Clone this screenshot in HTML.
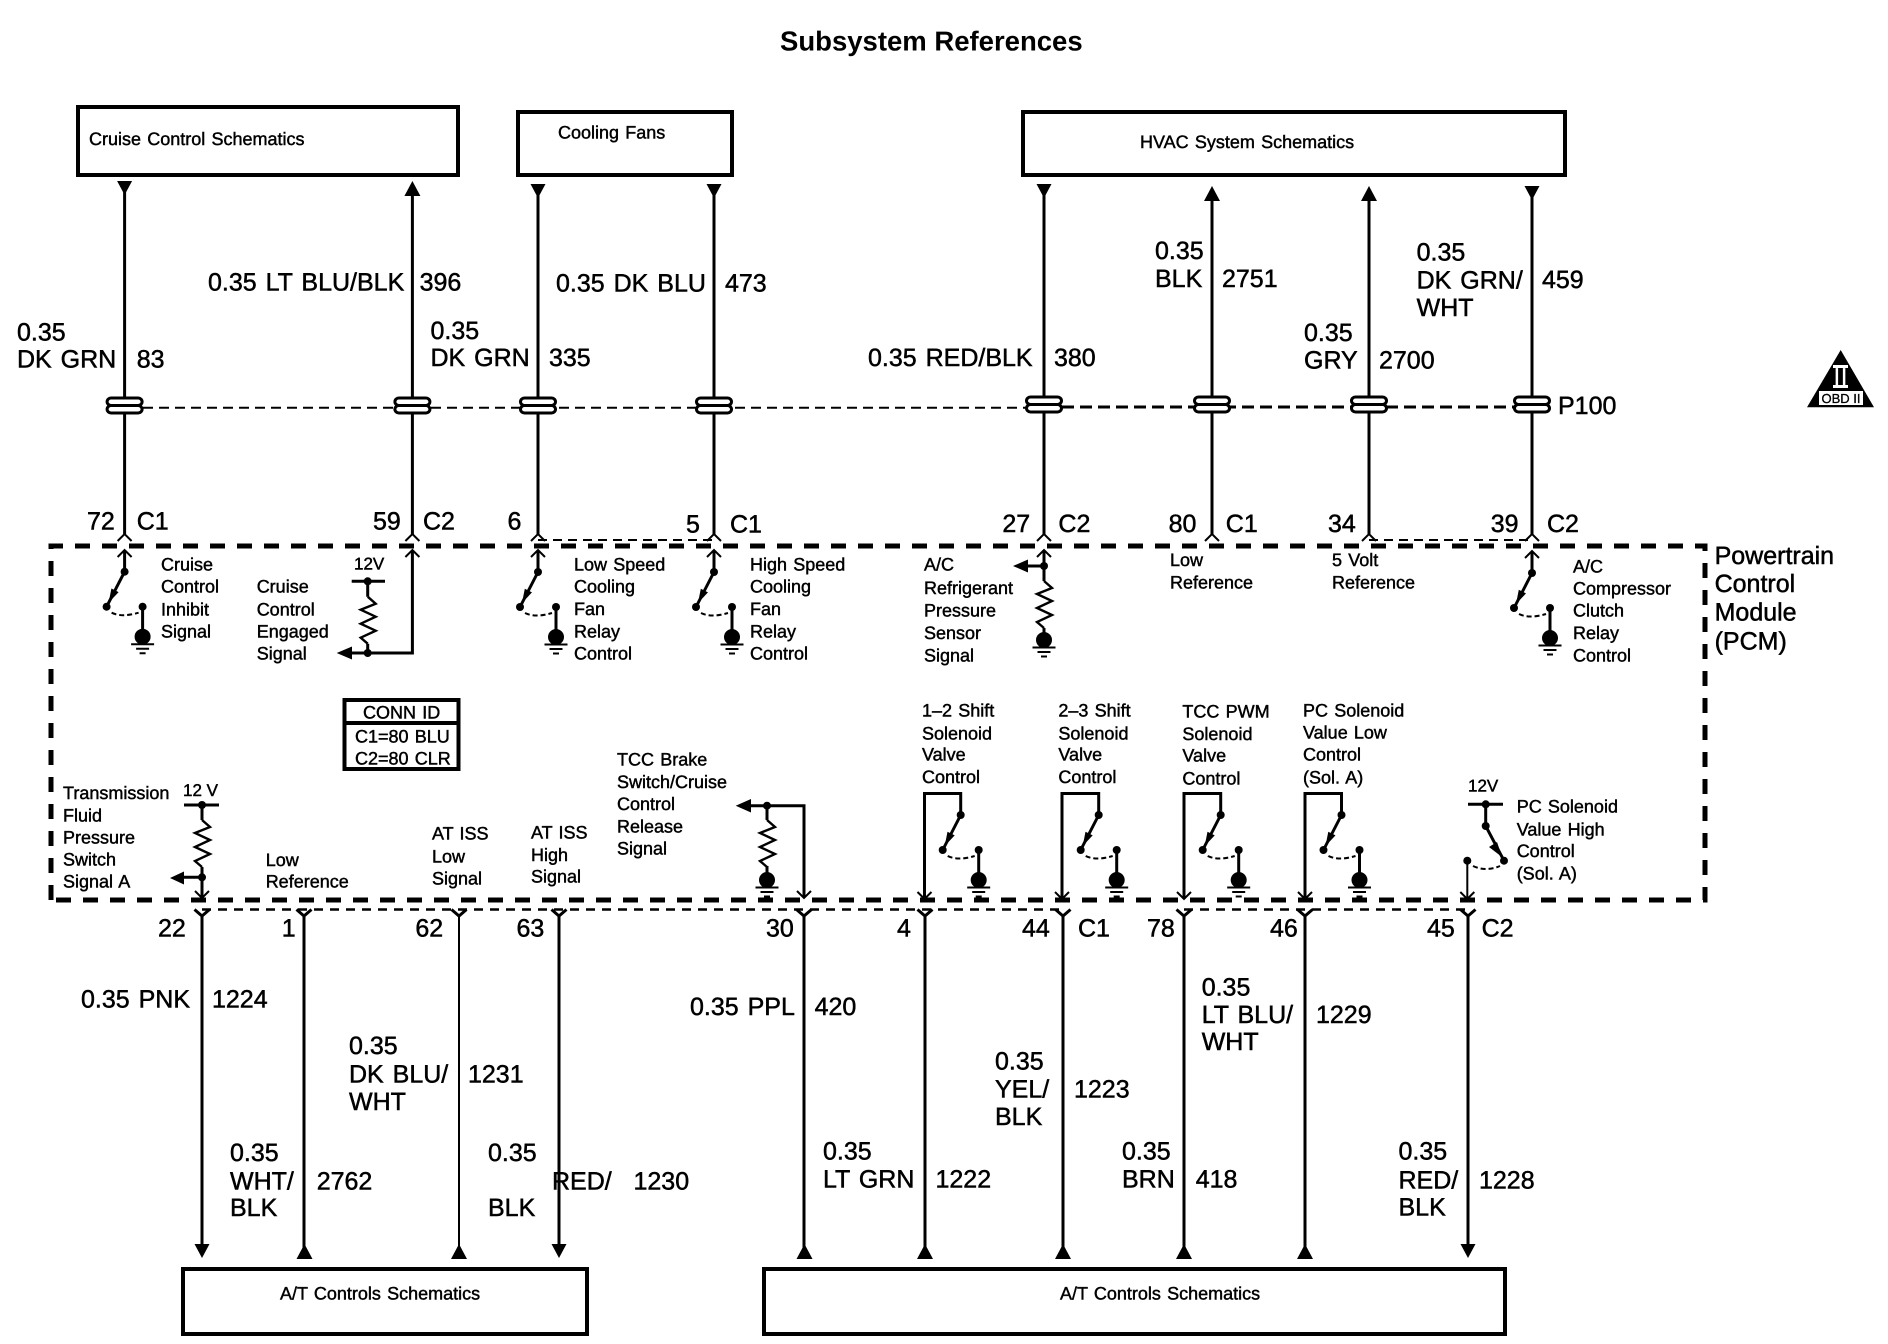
<!DOCTYPE html>
<html><head><meta charset="utf-8"><title>Subsystem References</title>
<style>
html,body{margin:0;padding:0;background:#fff}
svg{display:block}
text{font-family:"Liberation Sans",sans-serif;fill:#000;text-rendering:geometricPrecision}
.l{font-size:25px;stroke:#000;stroke-width:.5;word-spacing:2px;transform:translateY(-1px)}
.s{font-size:18px;stroke:#000;stroke-width:.45;word-spacing:1.2px;transform:translateY(-.7px)}
.v{font-size:17px;stroke:#000;stroke-width:.45;transform:translateY(-.7px)}
.t{font-size:27.5px;font-weight:bold}
.w{fill:none;stroke:#000;stroke-width:3}
.n{fill:none;stroke:#000;stroke-width:2}
.z{fill:none;stroke:#000;stroke-width:2.4}
</style></head><body>
<svg xmlns="http://www.w3.org/2000/svg" width="1888" height="1344" viewBox="0 0 1888 1344">
<defs>
<g id="gnd"><circle cx="0" cy="0" r="8"/><path d="M-11.500 7.500H11.500M-6.500 12H6.500M-3 16.500H3" class="n"/></g>
<g id="sw">
<circle cx="0" cy="0" r="4"/><path d="M0 0L-18 35" class="w"/><polygon points="-16,31 -13.200,16.800 -6,20.400"/>
<circle cx="-18" cy="35" r="4"/><circle cx="18" cy="35" r="4"/>
<path d="M-13 41Q-3 46 14 41" fill="none" stroke="#000" stroke-width="2" stroke-dasharray="5 3"/>
<path d="M18 35V65" class="w"/><use href="#gnd" x="18" y="65"/>
</g>
<path id="res" d="M0 0L8 7L-7 13L8 20L-7 27L8 34L-7 41L0 47" class="z"/>
<path id="up" d="M-7 7L0 0L7 7" class="n"/>
<path id="dn" d="M-7 -7L0 0L7 -7" class="n"/>
<path id="y" d="M-7.500 -6.500L0 0L7.500 -6.500" class="w"/>
<polygon id="ad" points="-7.500,0 7.500,0 0,14"/>
<polygon id="au" points="-8,15 8,15 0,0"/>
<g id="sp"><rect x="-17.500" y="398" width="35" height="7.500" rx="4" fill="#fff" stroke="#000" stroke-width="3"/><rect x="-17.500" y="405.500" width="35" height="7.500" rx="4" fill="#fff" stroke="#000" stroke-width="3"/></g>
</defs>

<text class="t" x="780" y="50.600">Subsystem References</text>

<!-- boxes -->
<g fill="none" stroke="#000" stroke-width="4">
<rect x="78" y="107" width="380" height="68"/>
<rect x="518" y="112" width="214" height="63"/>
<rect x="1023" y="112" width="542" height="63"/>
<rect x="183" y="1269" width="404" height="65"/>
<rect x="764" y="1269" width="741" height="65"/>
<rect x="344.500" y="700" width="114" height="69"/>
<path d="M344 723H459"/>
</g>
<text class="s" x="89" y="145.700">Cruise Control Schematics</text>
<text class="s" x="558" y="139">Cooling Fans</text>
<text class="s" x="1140" y="148.700">HVAC System Schematics</text>
<text class="s" x="280" y="1300">A/T Controls Schematics</text>
<text class="s" x="1060" y="1300">A/T Controls Schematics</text>

<!-- PCM boundary -->
<path d="M51 900V546H1705V900H51" fill="none" stroke="#000" stroke-width="5" stroke-dasharray="15 12"/>

<!-- P100 dashed -->
<path d="M143 407.700H1044" fill="none" stroke="#000" stroke-width="2" stroke-dasharray="10 6"/>
<path d="M1044 407H1532" fill="none" stroke="#000" stroke-width="3" stroke-dasharray="12 6"/>
<!-- connector dashed -->
<path d="M538 540H714M1369 540H1532" fill="none" stroke="#000" stroke-width="2" stroke-dasharray="9 6"/>
<path d="M202 909.500H1063M1184 909.500H1468" fill="none" stroke="#000" stroke-width="2.500" stroke-dasharray="9 7"/>

<!-- top wires -->
<g class="w">
<path d="M124.600 190V534M412.400 192V534M538 192V534M714 192V534M1044 192V534M1212 196V534M1369 196V534M1532 194V534"/>
</g>
<g>
<use href="#ad" x="124.600" y="181"/><use href="#au" x="412.400" y="181"/>
<use href="#ad" x="538" y="184"/><use href="#ad" x="714" y="184"/>
<use href="#ad" x="1044" y="184"/><use href="#au" x="1212" y="186"/>
<use href="#au" x="1369" y="186"/><use href="#ad" x="1532" y="186"/>
</g>
<use href="#sp" x="124.600"/><use href="#sp" x="412.400"/><use href="#sp" x="538"/><use href="#sp" x="714"/>
<use href="#sp" x="1044" y="-1"/><use href="#sp" x="1212" y="-1"/><use href="#sp" x="1369" y="-1"/><use href="#sp" x="1532" y="-1"/>
<!-- outer chevrons top -->
<use href="#up" x="124.600" y="534"/><use href="#up" x="412.400" y="534"/><use href="#up" x="538" y="534"/><use href="#up" x="714" y="534"/>
<use href="#up" x="1044" y="534"/><use href="#up" x="1212" y="534"/><use href="#up" x="1369" y="534"/><use href="#up" x="1532" y="534"/>
<!-- inner chevrons top -->
<use href="#up" x="124.600" y="550"/><use href="#up" x="412.400" y="550"/><use href="#up" x="538" y="550"/><use href="#up" x="714" y="550"/>
<use href="#up" x="1044" y="550"/><use href="#up" x="1532" y="551"/>
<path class="w" d="M124.600 550V572M538 550V572M714 550V572M1532 551V573M1044 550V581"/>
<use href="#sw" x="124.600" y="571.700"/><use href="#sw" x="538" y="572"/><use href="#sw" x="714" y="572"/><use href="#sw" x="1532" y="573"/>

<!-- cruise engaged -->
<path class="w" d="M412.400 550V653H350M351.700 581.300H385M367.700 581.300V596.700M367.700 643.700V653"/>
<use href="#res" x="367.700" y="596.700"/>
<circle cx="367.700" cy="581.300" r="4"/><circle cx="367.700" cy="653" r="4"/>
<polygon points="336.700,653 352,646.500 352,659.500"/>
<!-- AC refrigerant -->
<circle cx="1044" cy="566" r="4"/><path class="w" d="M1044 566H1026"/><polygon points="1013,566 1028,559.500 1028,572.500"/>
<use href="#res" x="1044" y="581"/><path class="w" d="M1044 628V640"/><use href="#gnd" x="1044" y="640"/>

<!-- bottom wires -->
<path class="w" d="M202 916V1245M304 916V1248M559 916V1245M804 916V1248M925 916V1248M1063 916V1248M1184 916V1248M1305 916V1248M1468 916V1245"/>
<path class="n" d="M459 916V1248"/>
<use href="#ad" x="202" y="1244"/><use href="#au" x="304.500" y="1244"/><use href="#au" x="459" y="1244"/><use href="#ad" x="559" y="1244"/>
<use href="#au" x="804.500" y="1244"/><use href="#au" x="925" y="1244"/><use href="#au" x="1063" y="1244"/><use href="#au" x="1184" y="1244"/><use href="#au" x="1305" y="1244"/><use href="#ad" x="1468" y="1244"/>
<use href="#y" x="202" y="916"/><use href="#y" x="304" y="916"/><use href="#y" x="459" y="916"/><use href="#y" x="559" y="916"/>
<use href="#y" x="804" y="916"/><use href="#y" x="925" y="916"/><use href="#y" x="1063" y="916"/><use href="#y" x="1184" y="916"/><use href="#y" x="1305" y="916"/><use href="#y" x="1468" y="916"/>

<!-- transmission fluid -->
<path class="w" d="M184 805H219M202 805V820M202 867V897M184 877.300H202"/>
<use href="#res" x="202" y="820"/>
<circle cx="202" cy="805" r="4"/><circle cx="202" cy="877.300" r="4"/>
<polygon points="170,878 184,871.500 184,884.500"/>
<use href="#dn" x="202" y="898"/>
<!-- TCC brake -->
<path class="w" d="M804 898V805.700H750M767 805.700V820M767 866V880"/>
<use href="#res" x="767" y="820"/>
<circle cx="767" cy="805.700" r="4"/>
<polygon points="735.700,805.700 751,799 751,812.500"/>
<use href="#gnd" x="767" y="880"/>
<use href="#dn" x="804" y="898"/>
<!-- solenoids -->
<path class="w" d="M924.500 898V793.500H960.700V815M1062 898V793.500H1098.700V815M1184 898V793.500H1220.700V815M1305 898V793.500H1341.500V815"/>
<use href="#sw" x="960.700" y="815"/><use href="#sw" x="1098.700" y="815"/><use href="#sw" x="1220.700" y="815"/><use href="#sw" x="1341.500" y="815"/>
<use href="#dn" x="924.500" y="899"/><use href="#dn" x="1062" y="899"/><use href="#dn" x="1184" y="899"/><use href="#dn" x="1305" y="899"/>
<!-- PC high -->
<path class="w" d="M1468 804.300H1503M1485.700 804.300V826L1504 860.700"/>
<circle cx="1485.700" cy="804.300" r="4"/><circle cx="1485.700" cy="826" r="4"/><circle cx="1504" cy="860.700" r="4"/><circle cx="1467.300" cy="860.700" r="4"/>
<polygon points="1502,857 1489,847 1497,842"/>
<path d="M1473 866Q1486 872 1500 866" fill="none" stroke="#000" stroke-width="2" stroke-dasharray="5 3"/>
<path class="n" d="M1467.300 861V899"/><use href="#dn" x="1467.300" y="899"/>

<!-- OBD -->
<polygon points="1840.700,350 1874,407.300 1807,407.300"/>
<rect x="1833" y="365" width="15" height="3" fill="#fff"/><rect x="1833" y="385" width="15" height="3" fill="#fff"/>
<text x="1833.300" y="386" style="font-size:26px;fill:#fff">II</text>
<rect x="1819" y="391" width="44" height="14" fill="#fff"/>
<text x="1821.500" y="403" style="font-size:13px;stroke:#000;stroke-width:.3">OBD II</text>

<!-- large labels top -->
<text class="l" x="17" y="341.600">0.35</text><text class="l" x="17" y="368.600">DK GRN</text><text class="l" x="136.700" y="368.600">83</text>
<text class="l" x="208" y="291.500">0.35 LT BLU/BLK</text><text class="l" x="419.600" y="291.500">396</text>
<text class="l" x="430.500" y="340">0.35</text><text class="l" x="430.500" y="367">DK GRN</text><text class="l" x="549" y="367">335</text>
<text class="l" x="556" y="292.700">0.35 DK BLU</text><text class="l" x="725" y="292.700">473</text>
<text class="l" x="868" y="367">0.35 RED/BLK</text><text class="l" x="1054" y="367">380</text>
<text class="l" x="1155" y="260">0.35</text><text class="l" x="1155" y="288">BLK</text><text class="l" x="1222" y="288">2751</text>
<text class="l" x="1416.600" y="261.500">0.35</text><text class="l" x="1416.600" y="289.300">DK GRN/</text><text class="l" x="1416.600" y="317">WHT</text><text class="l" x="1542" y="289">459</text>
<text class="l" x="1304" y="342">0.35</text><text class="l" x="1304" y="369.500">GRY</text><text class="l" x="1379" y="369.500">2700</text>
<text class="l" x="1558" y="415">P100</text>

<!-- pin labels top -->
<text class="l" x="87" y="530.600">72</text><text class="l" x="136.700" y="530.600">C1</text>
<text class="l" x="373" y="530.600">59</text><text class="l" x="423" y="530.600">C2</text>
<text class="l" x="507.500" y="530.600">6</text>
<text class="l" x="686" y="533.600">5</text><text class="l" x="730" y="533.600">C1</text>
<text class="l" x="1002.400" y="532.800">27</text><text class="l" x="1058.400" y="532.800">C2</text>
<text class="l" x="1168.600" y="532.800">80</text><text class="l" x="1225.800" y="532.800">C1</text>
<text class="l" x="1328" y="532.800">34</text>
<text class="l" x="1490.700" y="532.800">39</text><text class="l" x="1547" y="532.800">C2</text>

<text class="l" x="1714.600" y="565">Powertrain</text><text class="l" x="1714.600" y="593">Control</text><text class="l" x="1714.600" y="621.500">Module</text><text class="l" x="1714.600" y="650.600">(PCM)</text>

<!-- small labels upper row -->
<text class="s" x="161" y="571">Cruise</text><text class="s" x="161" y="593.300">Control</text><text class="s" x="161" y="616">Inhibit</text><text class="s" x="161" y="638">Signal</text>
<text class="s" x="256.700" y="593.300">Cruise</text><text class="s" x="256.700" y="616">Control</text><text class="s" x="256.700" y="638">Engaged</text><text class="s" x="256.700" y="660">Signal</text>
<text class="v" x="354" y="570">12V</text>
<text class="s" x="574" y="571">Low Speed</text><text class="s" x="574" y="593">Cooling</text><text class="s" x="574" y="615.500">Fan</text><text class="s" x="574" y="638">Relay</text><text class="s" x="574" y="660">Control</text>
<text class="s" x="750" y="571">High Speed</text><text class="s" x="750" y="593">Cooling</text><text class="s" x="750" y="615.500">Fan</text><text class="s" x="750" y="638">Relay</text><text class="s" x="750" y="660">Control</text>
<text class="s" x="924" y="571">A/C</text><text class="s" x="924" y="594.500">Refrigerant</text><text class="s" x="924" y="617">Pressure</text><text class="s" x="924" y="639.500">Sensor</text><text class="s" x="924" y="662">Signal</text>
<text class="s" x="1170" y="566.600">Low</text><text class="s" x="1170" y="589">Reference</text>
<text class="s" x="1332" y="566.600">5 Volt</text><text class="s" x="1332" y="589">Reference</text>
<text class="s" x="1573" y="573">A/C</text><text class="s" x="1573" y="595">Compressor</text><text class="s" x="1573" y="617">Clutch</text><text class="s" x="1573" y="639.500">Relay</text><text class="s" x="1573" y="662">Control</text>

<!-- conn id -->
<text class="s" x="363" y="719">CONN ID</text><text class="s" x="355" y="743">C1=80 BLU</text><text class="s" x="355" y="765">C2=80 CLR</text>

<!-- small labels lower row -->
<text class="s" x="63" y="799.700">Transmission</text><text class="s" x="63" y="822">Fluid</text><text class="s" x="63" y="844">Pressure</text><text class="s" x="63" y="866">Switch</text><text class="s" x="63" y="888">Signal A</text>
<text class="v" x="183" y="796.700">12 V</text>
<text class="s" x="265.700" y="866.700">Low</text><text class="s" x="265.700" y="888">Reference</text>
<text class="s" x="432" y="840">AT ISS</text><text class="s" x="432" y="863">Low</text><text class="s" x="432" y="885">Signal</text>
<text class="s" x="531" y="839">AT ISS</text><text class="s" x="531" y="861.500">High</text><text class="s" x="531" y="883">Signal</text>
<text class="s" x="617" y="766">TCC Brake</text><text class="s" x="617" y="788.600">Switch/Cruise</text><text class="s" x="617" y="810.500">Control</text><text class="s" x="617" y="833">Release</text><text class="s" x="617" y="855">Signal</text>
<text class="s" x="922" y="717">1–2 Shift</text><text class="s" x="922" y="740">Solenoid</text><text class="s" x="922" y="761">Valve</text><text class="s" x="922" y="783.500">Control</text>
<text class="s" x="1058.400" y="717">2–3 Shift</text><text class="s" x="1058.400" y="740">Solenoid</text><text class="s" x="1058.400" y="761">Valve</text><text class="s" x="1058.400" y="783.500">Control</text>
<text class="s" x="1182.400" y="718">TCC PWM</text><text class="s" x="1182.400" y="740.600">Solenoid</text><text class="s" x="1182.400" y="762">Valve</text><text class="s" x="1182.400" y="785">Control</text>
<text class="s" x="1303" y="717">PC Solenoid</text><text class="s" x="1303" y="739">Value Low</text><text class="s" x="1303" y="761">Control</text><text class="s" x="1303" y="784">(Sol. A)</text>
<text class="v" x="1468" y="792">12V</text>
<text class="s" x="1516.700" y="813">PC Solenoid</text><text class="s" x="1516.700" y="836">Value High</text><text class="s" x="1516.700" y="857.700">Control</text><text class="s" x="1516.700" y="880">(Sol. A)</text>

<!-- pin labels bottom -->
<text class="l" x="158" y="937.700">22</text><text class="l" x="281.800" y="937.700">1</text><text class="l" x="415.400" y="937.700">62</text><text class="l" x="516.500" y="937.700">63</text>
<text class="l" x="766" y="937.700">30</text><text class="l" x="897" y="937.700">4</text><text class="l" x="1022" y="937.700">44</text><text class="l" x="1078" y="937.700">C1</text>
<text class="l" x="1147" y="937.700">78</text><text class="l" x="1270" y="937.700">46</text><text class="l" x="1427" y="937.700">45</text><text class="l" x="1481.600" y="937.700">C2</text>

<!-- large labels bottom -->
<text class="l" x="81" y="1008.500">0.35 PNK</text><text class="l" x="212" y="1008.500">1224</text>
<text class="l" x="349" y="1054.800">0.35</text><text class="l" x="349" y="1083.500">DK BLU/</text><text class="l" x="349" y="1111">WHT</text><text class="l" x="468" y="1083.500">1231</text>
<text class="l" x="230" y="1162">0.35</text><text class="l" x="230" y="1190.600">WHT/</text><text class="l" x="230" y="1217">BLK</text><text class="l" x="316.700" y="1190.600">2762</text>
<text class="l" x="488" y="1162">0.35</text><text class="l" x="552" y="1190.600">RED/</text><text class="l" x="488" y="1217">BLK</text><text class="l" x="633.500" y="1190.600">1230</text>
<text class="l" x="690" y="1016">0.35 PPL</text><text class="l" x="814.600" y="1016">420</text>
<text class="l" x="823" y="1160.600">0.35</text><text class="l" x="823" y="1188.500">LT GRN</text><text class="l" x="935.500" y="1188.500">1222</text>
<text class="l" x="995" y="1070.600">0.35</text><text class="l" x="995" y="1098.500">YEL/</text><text class="l" x="995" y="1126">BLK</text><text class="l" x="1074" y="1098.500">1223</text>
<text class="l" x="1201.700" y="996.500">0.35</text><text class="l" x="1201.700" y="1024">LT BLU/</text><text class="l" x="1201.700" y="1051">WHT</text><text class="l" x="1316" y="1024">1229</text>
<text class="l" x="1122" y="1160.600">0.35</text><text class="l" x="1122" y="1188.500">BRN</text><text class="l" x="1195.700" y="1188.500">418</text>
<text class="l" x="1398.500" y="1160.600">0.35</text><text class="l" x="1398.500" y="1189.400">RED/</text><text class="l" x="1398.500" y="1216.400">BLK</text><text class="l" x="1479" y="1189.400">1228</text>
</svg>
</body></html>
